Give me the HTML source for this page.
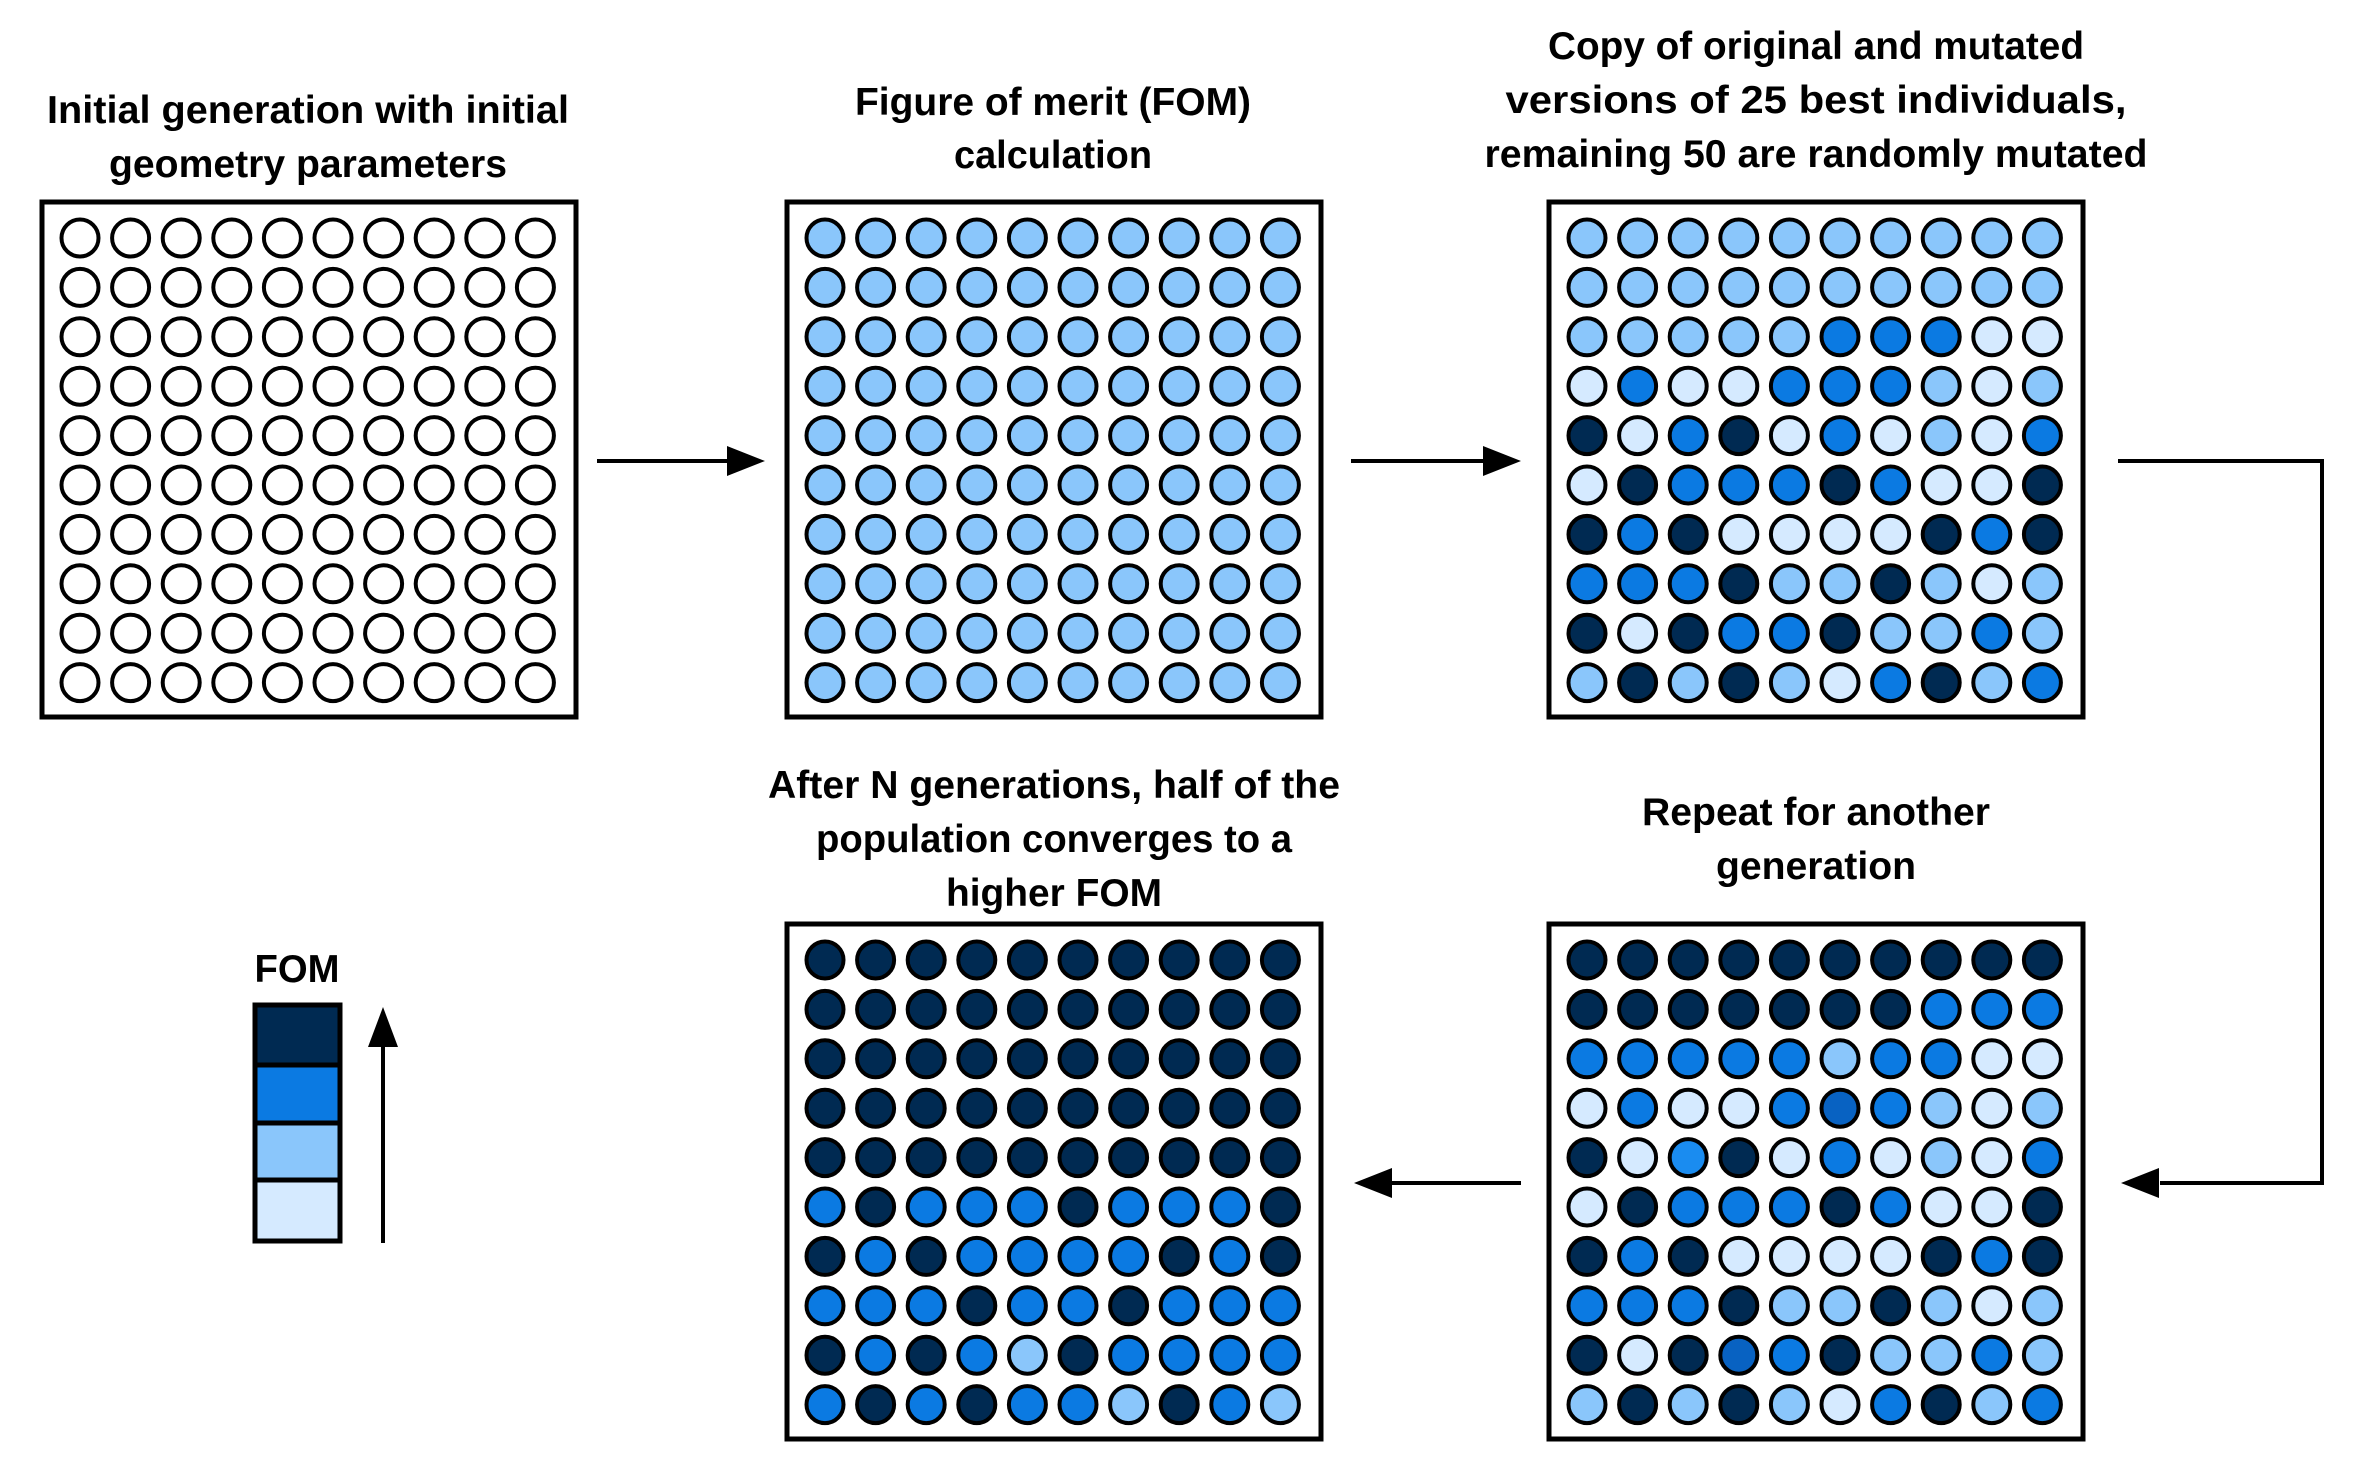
<!DOCTYPE html>
<html><head><meta charset="utf-8"><style>
html,body{margin:0;padding:0;background:#fff;}
svg{display:block;}
text{font-family:"Liberation Sans",sans-serif;font-weight:bold;fill:#000;}
</style></head><body>
<svg id="s" width="2354" height="1469" viewBox="0 0 2354 1469" xmlns="http://www.w3.org/2000/svg">
<defs>
<marker id="ah" markerWidth="10" markerHeight="10" refX="9" refY="5" orient="auto" markerUnits="userSpaceOnUse" viewBox="0 0 10 10"></marker>
</defs>
<g font-size="39" text-anchor="middle">
<text x="308" y="123" textLength="522" lengthAdjust="spacingAndGlyphs">Initial generation with initial</text>
<text x="308" y="177" textLength="398" lengthAdjust="spacingAndGlyphs">geometry parameters</text>
<text x="1053" y="115" textLength="396" lengthAdjust="spacingAndGlyphs">Figure of merit (FOM)</text>
<text x="1053" y="168" textLength="198" lengthAdjust="spacingAndGlyphs">calculation</text>
<text x="1816" y="59" textLength="536" lengthAdjust="spacingAndGlyphs">Copy of original and mutated</text>
<text x="1816" y="113" textLength="621" lengthAdjust="spacingAndGlyphs">versions of 25 best individuals,</text>
<text x="1816" y="167" textLength="663" lengthAdjust="spacingAndGlyphs">remaining 50 are randomly mutated</text>
<text x="1054" y="798" textLength="572" lengthAdjust="spacingAndGlyphs">After N generations, half of the</text>
<text x="1054" y="852" textLength="476" lengthAdjust="spacingAndGlyphs">population converges to a</text>
<text x="1054" y="906" textLength="216" lengthAdjust="spacingAndGlyphs">higher FOM</text>
<text x="1816" y="825" textLength="348" lengthAdjust="spacingAndGlyphs">Repeat for another</text>
<text x="1816" y="879" textLength="200" lengthAdjust="spacingAndGlyphs">generation</text>
<text x="297" y="982" textLength="85" lengthAdjust="spacingAndGlyphs">FOM</text>
</g>
<g id="grids"></g>
<!-- arrows -->
<g stroke="#000" stroke-width="4" fill="none">
<line x1="597" y1="461" x2="730" y2="461"/>
<line x1="1351" y1="461" x2="1485" y2="461"/>
<polyline points="2118,461 2322,461 2322,1183 2160,1183"/>
<line x1="1521" y1="1183" x2="1390" y2="1183"/>
<line x1="383" y1="1243" x2="383" y2="1045"/>
</g>
<g fill="#000">
<polygon points="765,461 727,446 727,476"/>
<polygon points="1521,461 1483,446 1483,476"/>
<polygon points="2121,1183 2159,1168 2159,1198"/>
<polygon points="1354,1183 1392,1168 1392,1198"/>
<polygon points="383,1007 368,1047 398,1047"/>
</g>
<!-- legend -->
<g stroke="#000" stroke-width="5">
<rect x="255" y="1005" width="85" height="60" fill="#002a52"/>
<rect x="255" y="1065" width="85" height="58" fill="#0b7ae2"/>
<rect x="255" y="1123" width="85" height="57" fill="#8ac6fb"/>
<rect x="255" y="1180" width="85" height="61" fill="#d5eaff"/>
</g>
</svg>
<script>
var C={O:"#ffffff",D:"#002a52",B:"#0b7ae2",E:"#0862c2",F:"#1a8cf0",L:"#8ac6fb",W:"#d5eaff"};
function rep(s,n){var a=[];for(var i=0;i<n;i++)a.push(s);return a;}
var grids=[
 {x:42,y:202,rows:rep("OOOOOOOOOO",10)},
 {x:787,y:202,rows:rep("LLLLLLLLLL",10)},
 {x:1549,y:202,rows:["LLLLLLLLLL","LLLLLLLLLL","LLLLLBBBWW","WBWWBBBLWL","DWBDWBWLWB","WDBBBDBWWD","DBDWWWWDBD","BBBDLLDLWL","DWDBBDLLBL","LDLDLWBDLB"]},
 {x:1549,y:924,rows:["DDDDDDDDDD","DDDDDDDBBB","BBBBBLBBWW","WBWWBEBLWL","DWFDWBWLWB","WDBBBDBWWD","DBDWWWWDBD","BBBDLLDLWL","DWDEBDLLBL","LDLDLWBDLB"]},
 {x:787,y:924,rows:["DDDDDDDDDD","DDDDDDDDDD","DDDDDDDDDD","DDDDDDDDDD","DDDDDDDDDD","BDBBBDBBBD","DBDBBBBDBD","BBBDBBDBBB","DBDBLDBBBB","BDBDBBLDBL"]}
];
var ns="http://www.w3.org/2000/svg",g=document.getElementById("grids");
grids.forEach(function(gr){
 var r=document.createElementNS(ns,"rect");
 r.setAttribute("x",gr.x);r.setAttribute("y",gr.y);r.setAttribute("width",534);r.setAttribute("height",515);
 r.setAttribute("fill","#fff");r.setAttribute("stroke","#000");r.setAttribute("stroke-width",5);g.appendChild(r);
 for(var i=0;i<10;i++)for(var j=0;j<10;j++){
  var c=document.createElementNS(ns,"circle");
  c.setAttribute("cx",gr.x+38+j*50.6);c.setAttribute("cy",gr.y+36+i*49.4);c.setAttribute("r",18.5);
  c.setAttribute("fill",C[gr.rows[i][j]]);c.setAttribute("stroke","#000");c.setAttribute("stroke-width",4);
  g.appendChild(c);
 }
});
</script>
</body></html>
